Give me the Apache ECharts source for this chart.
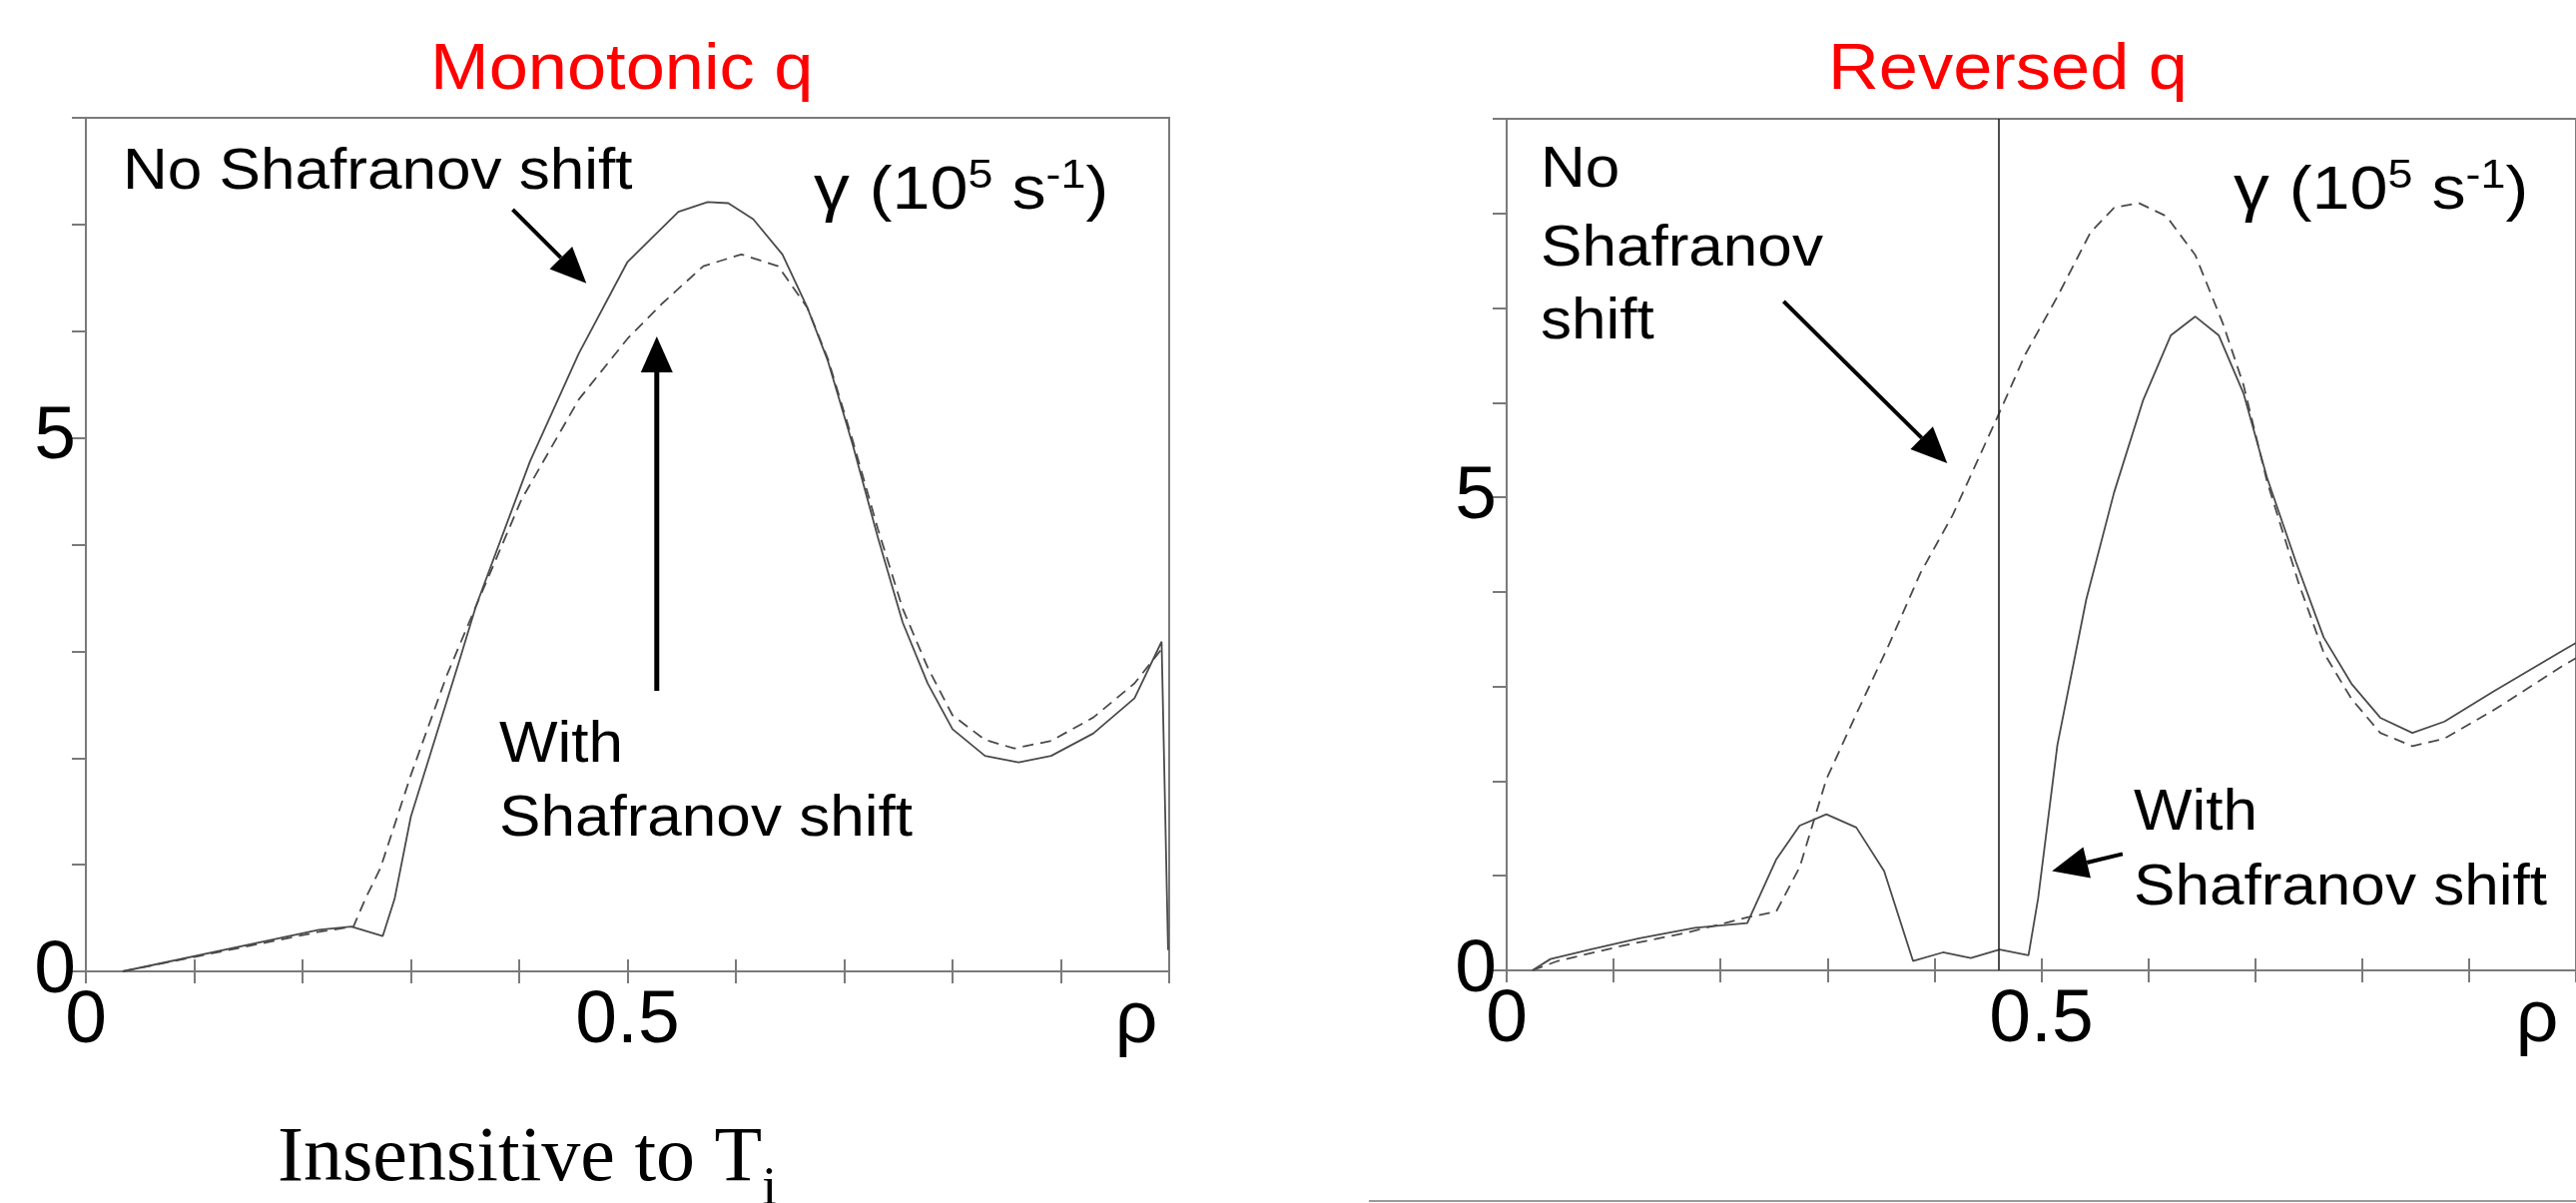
<!DOCTYPE html>
<html>
<head>
<meta charset="utf-8">
<script src="https://cdn.jsdelivr.net/npm/echarts@6/dist/echarts.min.js"></script>
<style>
html,body{margin:0;padding:0;background:#fff;}
#c{width:2580px;height:1205px;}
</style>
</head>
<body>
<div id="c"></div>
<script>
// Growth rate gamma (1e5 s^-1) versus normalised radius rho

// Monotonic q, no Shafranov shift (solid)
const rhoMonoNoShift   = [0.034,0.215,0.245,0.274,0.285,0.30,0.345,0.36,0.41,0.455,0.50,0.547,0.574,0.593,0.616,0.643,0.666,0.685,0.708,0.731,0.754,0.777,0.80,0.83,0.861,0.891,0.93,0.968,0.993,0.999];
const gammaMonoNoShift = [0,0.39,0.42,0.33,0.68,1.45,2.92,3.42,4.78,5.79,6.65,7.12,7.21,7.20,7.05,6.72,6.22,5.72,4.93,4.07,3.27,2.70,2.27,2.02,1.96,2.02,2.23,2.56,3.09,0.2];

// Monotonic q, with Shafranov shift (dashed)
const rhoMonoShift   = [0.034,0.215,0.247,0.258,0.272,0.30,0.333,0.36,0.402,0.455,0.50,0.532,0.57,0.605,0.639,0.666,0.685,0.708,0.731,0.754,0.777,0.80,0.83,0.857,0.891,0.93,0.968,0.993];
const gammaMonoShift = [0,0.37,0.42,0.68,0.97,1.84,2.77,3.42,4.42,5.36,5.93,6.26,6.61,6.72,6.61,6.22,5.74,4.97,4.15,3.40,2.85,2.40,2.17,2.09,2.16,2.38,2.70,3.02];

// Reversed q, with Shafranov shift (solid)
const rhoRevShift   = [0.024,0.041,0.078,0.124,0.176,0.225,0.252,0.274,0.299,0.327,0.353,0.38,0.408,0.434,0.461,0.488,0.497,0.515,0.542,0.568,0.595,0.621,0.644,0.666,0.689,0.711,0.738,0.764,0.79,0.817,0.847,0.877,0.923,0.989,1.0];
const gammaRevShift = [0,0.12,0.22,0.34,0.45,0.50,1.17,1.53,1.65,1.51,1.05,0.10,0.19,0.13,0.22,0.16,0.76,2.38,3.92,5.05,6.02,6.71,6.91,6.71,6.10,5.21,4.32,3.52,3.03,2.67,2.51,2.63,2.95,3.39,3.46];

// Reversed q, no Shafranov shift (dashed)
const rhoRevNoShift   = [0.024,0.048,0.108,0.169,0.225,0.252,0.274,0.299,0.327,0.357,0.387,0.417,0.44,0.461,0.485,0.515,0.546,0.568,0.591,0.617,0.644,0.67,0.689,0.711,0.741,0.764,0.79,0.817,0.847,0.877,0.923,0.989,1.0];
const gammaRevNoShift = [0,0.10,0.26,0.40,0.56,0.62,1.09,2.02,2.71,3.43,4.20,4.81,5.38,5.90,6.51,7.12,7.80,8.06,8.11,7.97,7.56,6.83,6.19,5.17,4.08,3.36,2.87,2.51,2.37,2.45,2.75,3.23,3.30];

// Radius of the vertical reference line in the reversed-q panel
const rhoMarker = 0.461;

// Axis ranges and tick spacing
const xMin = 0, xMax = 1, xStep = 0.1;
const yMaxMono = 8, yMaxRev = 9, yStep = 1;
const xTickLabels = {0: '0', 0.5: '0.5'};
const yTickLabels = {0: '0', 5: '5'};
const rhoName = 'ρ';

// Panel titles and annotations
const titles = ['Monotonic q', 'Reversed q'];
const footText = 'Insensitive to T';
const footSub = 'i';

// Annotation arrows in data coordinates: [series index, from, to, line width]
const arrows = [
  [0, [0.394, 7.14], [0.462, 6.45], 4],
  [0, [0.527, 2.63], [0.527, 5.95], 5],
  [3, [0.259, 7.07], [0.412, 5.36], 4],
  [2, [0.576, 1.23], [0.510, 1.05], 4]
];

const zip = (xs, ys) => xs.map((x, i) => [x, ys[i]]);

const FONT = 'Liberation Sans, Arial, Helvetica, sans-serif';
const LINE = '#4a4a4a';
const FRAME = '#7a7a7a';
const TICK_FONT = 75;

function xLabelFmt(v) {
  for (const k in xTickLabels) if (Math.abs(v - Number(k)) < 1e-9) return xTickLabels[k];
  if (Math.abs(v - 1) < 1e-9) return '{r|' + rhoName + '}';
  return '';
}
function yLabelFmt(v) {
  for (const k in yTickLabels) if (Math.abs(v - Number(k)) < 1e-9) return yTickLabels[k];
  return '';
}

function bottomX(gi, rhoPad) {
  return {
    type: 'value', gridIndex: gi, min: xMin, max: xMax, interval: xStep, position: 'bottom',
    axisLine: {show: false},
    axisTick: {show: true, inside: true, length: 12, lineStyle: {color: FRAME, width: 2}},
    splitLine: {show: false},
    axisLabel: {
      show: true, margin: 13, color: '#000', fontSize: TICK_FONT, fontFamily: FONT,
      formatter: xLabelFmt, showMaxLabel: true, showMinLabel: true,
      rich: {r: {fontSize: TICK_FONT, fontFamily: FONT, color: '#000', padding: [0, rhoPad, 0, 0]}}
    }
  };
}
function topX(gi) {
  return {
    type: 'value', gridIndex: gi, min: xMin, max: xMax, interval: xStep, position: 'top',
    axisLine: {show: false},
    axisTick: {show: true, inside: true, length: 12, lineStyle: {color: FRAME, width: 2}},
    splitLine: {show: false}, axisLabel: {show: false}
  };
}
function leftY(gi, ymax) {
  return {
    type: 'value', gridIndex: gi, min: 0, max: ymax, interval: yStep, position: 'left',
    axisLine: {show: false}, axisTick: {show: false}, splitLine: {show: false},
    axisLabel: {show: true, margin: 10, color: '#000', fontSize: TICK_FONT, fontFamily: FONT, formatter: yLabelFmt}
  };
}
function rightY(gi, ymax) {
  return {
    type: 'value', gridIndex: gi, min: 0, max: ymax, interval: yStep, position: 'right',
    axisLine: {show: false},
    axisTick: {show: true, inside: true, length: 14, lineStyle: {color: FRAME, width: 2}},
    splitLine: {show: false}, axisLabel: {show: false}
  };
}

function curve(name, xi, yi, data, dashed) {
  return {
    name, type: 'line', xAxisIndex: xi, yAxisIndex: yi, data,
    showSymbol: false, symbol: 'none', smooth: false, animation: false,
    lineStyle: {color: LINE, width: 1.8, type: dashed ? [11, 7] : 'solid'},
    z: 3
  };
}

const chart = echarts.init(document.getElementById('c'));

const series = [
  curve('Monotonic q, no shift', 0, 0, zip(rhoMonoNoShift, gammaMonoNoShift), false),
  curve('Monotonic q, with shift', 0, 0, zip(rhoMonoShift, gammaMonoShift), true),
  curve('Reversed q, with shift', 2, 2, zip(rhoRevShift, gammaRevShift), false),
  curve('Reversed q, no shift', 2, 2, zip(rhoRevNoShift, gammaRevNoShift), true)
];
series[2].markLine = {
  silent: true, symbol: ['none', 'none'], label: {show: false}, animation: false,
  lineStyle: {color: '#222', width: 1.6, type: 'solid'},
  data: [{xAxis: rhoMarker}]
};

function txt(x, y, text, size, sx) {
  return {
    type: 'text', x, y, scaleX: sx || 1,
    style: {text, fontSize: size, fontFamily: FONT, fill: '#000', align: 'left', verticalAlign: 'middle'}
  };
}
function gammaLabel(x, y) {
  return {
    type: 'text', x, y, scaleX: 1.12,
    style: {
      text: '{g|γ\u00a0}{a|(10}{s|5}{a|\u00a0s}{s|-1}{a|)}',
      fontFamily: FONT, fill: '#000', align: 'left', verticalAlign: 'middle',
      rich: {
        g: {fontSize: 64, fontFamily: FONT, fill: '#000'},
        a: {fontSize: 61, fontFamily: FONT, fill: '#000'},
        s: {fontSize: 40, fontFamily: FONT, fill: '#000', verticalAlign: 'top', padding: [0, 0, 30, 0]}
      }
    }
  };
}

const baseGraphics = [
  {type: 'text', x: 431, y: 71, scaleX: 1.1, style: {text: titles[0], fontSize: 64, fontFamily: FONT, fill: '#ff0000', align: 'left', verticalAlign: 'middle'}},
  {type: 'text', x: 1831, y: 71, scaleX: 1.1, style: {text: titles[1], fontSize: 64, fontFamily: FONT, fill: '#ff0000', align: 'left', verticalAlign: 'middle'}},
  txt(123, 173, 'No Shafranov shift', 58, 1.07),
  gammaLabel(815, 192),
  txt(500, 747, 'With', 58, 1.07),
  txt(500, 821, 'Shafranov shift', 58, 1.07),
  txt(1543, 171, 'No', 58, 1.07),
  txt(1543, 250, 'Shafranov', 58, 1.07),
  txt(1543, 323, 'shift', 58, 1.07),
  gammaLabel(2237, 192),
  txt(2137, 815, 'With', 58, 1.07),
  txt(2137, 890, 'Shafranov shift', 58, 1.07),
  {
    type: 'text', x: 278, y: 1162,
    style: {
      text: '{a|' + footText + '}{b|' + footSub + '}', align: 'left', verticalAlign: 'middle',
      rich: {
        a: {fontSize: 78, fontFamily: 'Liberation Serif, Times New Roman, serif', fill: '#000'},
        b: {fontSize: 54, fontFamily: 'Liberation Serif, Times New Roman, serif', fill: '#000', verticalAlign: 'bottom', padding: [0, 0, -18, 0]}
      }
    }
  },
  {type: 'line', shape: {x1: 1371, y1: 1203, x2: 2580, y2: 1203}, style: {stroke: '#9a9a9a', lineWidth: 2}}
];

chart.setOption({
  animation: false,
  backgroundColor: '#fff',
  grid: [
    {left: 86, top: 118, width: 1085, height: 855, show: true, borderColor: FRAME, borderWidth: 2, containLabel: false},
    {left: 1509, top: 119, width: 1083, height: 853, show: true, borderColor: FRAME, borderWidth: 2, containLabel: false}
  ],
  xAxis: [bottomX(0, 66), topX(0), bottomX(1, 78), topX(1)],
  yAxis: [leftY(0, yMaxMono), rightY(0, yMaxMono), leftY(1, yMaxRev), rightY(1, yMaxRev)],
  series,
  graphic: baseGraphics
});

// Arrows: shafts and filled heads placed from data coordinates
function arrowGraphic(a) {
  const p0 = chart.convertToPixel({seriesIndex: a[0]}, a[1]);
  const p1 = chart.convertToPixel({seriesIndex: a[0]}, a[2]);
  const dx = p1[0] - p0[0], dy = p1[1] - p0[1];
  const L = Math.hypot(dx, dy), ux = dx / L, uy = dy / L;
  const headLen = 36, headW = 16;
  const bx = p1[0] - ux * headLen, by = p1[1] - uy * headLen;
  const nx = -uy, ny = ux;
  return [
    {type: 'line', shape: {x1: p0[0], y1: p0[1], x2: bx, y2: by}, style: {stroke: '#000', lineWidth: a[3]}},
    {type: 'polygon', shape: {points: [[p1[0], p1[1]], [bx + nx * headW, by + ny * headW], [bx - nx * headW, by - ny * headW]]}, style: {fill: '#000'}}
  ];
}
const arrowEls = [];
arrows.forEach(a => arrowEls.push(...arrowGraphic(a)));
chart.setOption({graphic: baseGraphics.concat(arrowEls)});
</script>
</body>
</html>
